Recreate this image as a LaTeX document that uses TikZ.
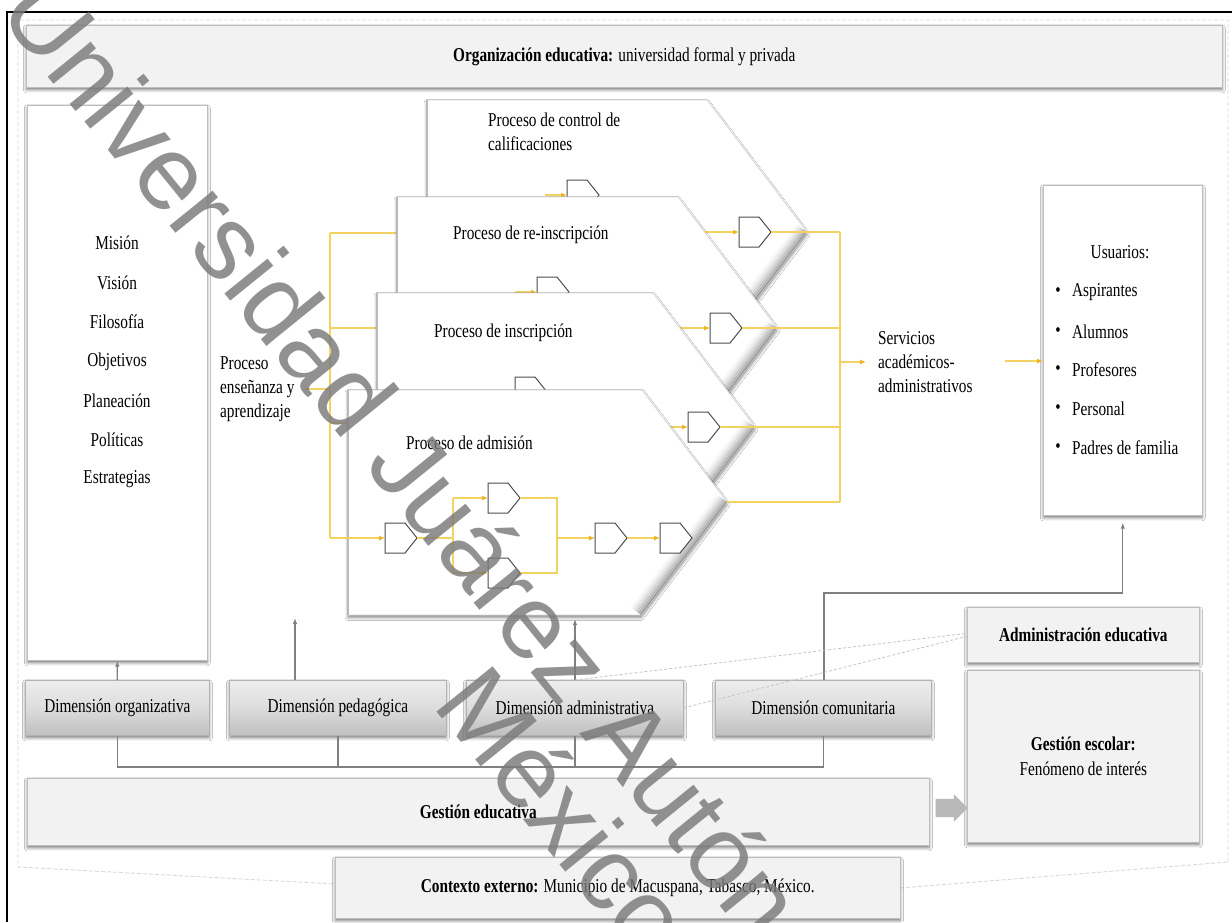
\documentclass[tikz,border=0pt]{standalone}
\usepackage{fontspec}
\setmainfont{Liberation Serif}[FakeStretch=0.78]
\newfontfamily\markfont{Liberation Sans}
\usetikzlibrary{shadows.blur,arrows.meta,shapes.arrows}

\definecolor{flow}{RGB}{242,210,96}
\definecolor{flowtip}{RGB}{236,180,30}
\definecolor{panel}{RGB}{242,242,242}
\definecolor{conn}{RGB}{128,128,128}
\definecolor{edge}{RGB}{190,190,190}
\definecolor{markgray}{RGB}{122,122,122}

\tikzset{
  every node/.style={font=\fontsize{19.6}{24}\selectfont, inner sep=0pt},
  softshadow/.style={blur shadow={shadow xshift=0pt, shadow yshift=-2.5pt, shadow blur radius=3pt, shadow opacity=50}},
  panelbox/.style={softshadow, fill=panel, draw=edge, line width=0.6pt, anchor=north west},
  whitebox/.style={softshadow, fill=white, draw=edge, line width=0.6pt, anchor=north west},
  dimbox/.style={softshadow, top color=gray!14, bottom color=gray!50, middle color=gray!27, draw=gray!60, line width=0.7pt, anchor=north west},
  procpath/.style={softshadow, fill=white, draw=gray!30, line width=0.8pt},
  procedge/.style={draw=gray!55, line width=1.6pt},
  gatepen/.style={fill=white, draw=black!70, line width=1pt, line join=miter},
  flowline/.style={draw=flow, line width=1.2pt},
  flowarrow/.style={flowline, -{Latex[length=6pt,width=5pt,color=flowtip]}},
  connline/.style={draw=conn, line width=1.3pt},
  connarrow/.style={connline, -{Latex[length=6pt,width=4.5pt]}},
  zoomline/.style={draw=gray!45, line width=0.8pt, dash pattern=on 3pt off 2pt},
  outerframe/.style={draw=gray!30, line width=0.9pt, dash pattern=on 4pt off 2pt},
  watermark/.style={font=\markfont\fontsize{105}{118}\selectfont, text=markgray,
                    text opacity=0.82, rotate=-51, anchor=base west},
  gate/.pic={
    \path[gatepen] (-16,-15) -- (4,-15) -- (16,0) -- (4,15) -- (-16,15) -- cycle;
    \coordinate (-in) at (-16,0);
    \coordinate (-out) at (16,0);
  },
}

% inner bevel along the lower slanted side of a process chevron
\newcommand\bevel[4]{%
  \foreach \k/\o in {0/0.32,2/0.26,4/0.20,6/0.14,8/0.09,10/0.05,12/0.02}
    \draw[line width=2.2pt, black, opacity=\o, shift={(-0.797*\k,-0.604*\k)}] (#1,#2) -- (#3,#4);
}

\begin{document}
\begin{tikzpicture}[x=1pt,y=-1pt]
\useasboundingbox (0,0) rectangle (1232,922);
\fill[white] (0,0) rectangle (1232,922);

% surrounding frames
\path[outerframe] (1228,862) -- (1228,20) -- (18,20) -- (18,867) -- (335,884);
\path[outerframe] (900,888) -- (1228,862);
\draw[line width=2pt] (7,922) -- (7,12) -- (1232,12);

% organisation header
\node[panelbox, minimum width=1196pt, minimum height=62pt] (org) at (26,25)
  {\textbf{Organización educativa:} universidad formal y privada};

% strategic column
\node[whitebox, minimum width=180pt, minimum height=555pt] (mis) at (27,105) {};
\foreach \t/\y in {Misión/243, Visión/283, Filosofía/322, Objetivos/362,
                   Planeación/401, Políticas/440, Estrategias/479}
  \node (m\y) at (117,\y) {\t};

\node[anchor=west, align=left] (pea) at (220,389) {Proceso\\enseñanza y\\aprendizaje};

% input bus towards the processes
\coordinate (busTop) at (330,233);
\coordinate (busBot) at (330,538);
\coordinate (reL) at (397,233);
\coordinate (inL) at (377,328);
\coordinate (adL) at (348,423);
\draw[flowline] ([xshift=10pt]pea.east) -- (pea.east -| busTop);
\draw[flowline] (busTop) -- (busBot);
\draw[flowline] (busTop) -- (reL);
\draw[flowline] (busTop |- inL) -- (inL);
\draw[flowline] (busTop |- adL) -- (adL);

% process: control de calificaciones
\path[procpath] (427,100) -- (707,100) -- (807,232) -- (707,364) -- (427,364) -- cycle;
\begin{scope}
  \clip (427,100) -- (707,100) -- (807,232) -- (707,364) -- (427,364) -- cycle;
  \bevel{807}{232}{707}{364}
\end{scope}
\draw[procedge] (427,100) -- (427,364);
\node[anchor=west, align=left] (tctl) at (488,131.5) {Proceso de control de\\calificaciones};
\pic (c1) at (583,195) {gate};
\coordinate (c1src) at (545,195);
\draw[flowarrow] (c1src) -- (c1-in);
\pic (c2) at (755,232) {gate};
\coordinate (c2src) at (660,232);
\draw[flowarrow] (c2src) -- (c2-in);

% process: re-inscripcion
\path[procpath] (397,197) -- (678,197) -- (777,328) -- (678,459) -- (397,459) -- cycle;
\begin{scope}
  \clip (397,197) -- (678,197) -- (777,328) -- (678,459) -- (397,459) -- cycle;
  \bevel{777}{328}{678}{459}
\end{scope}
\draw[procedge] (397,197) -- (397,459);
\node[anchor=west] (trei) at (453,235) {Proceso de re-inscripción};
\pic (r1) at (553,292) {gate};
\coordinate (r1src) at (515,292);
\draw[flowarrow] (r1src) -- (r1-in);
\pic (r2) at (726,328) {gate};
\coordinate (r2src) at (640,328);
\draw[flowarrow] (r2src) -- (r2-in);

% process: inscripcion
\path[procpath] (377,293) -- (653,293) -- (755,427) -- (653,561) -- (377,561) -- cycle;
\begin{scope}
  \clip (377,293) -- (653,293) -- (755,427) -- (653,561) -- (377,561) -- cycle;
  \bevel{755}{427}{653}{561}
\end{scope}
\draw[procedge] (377,293) -- (377,561);
\node[anchor=west] (tins) at (434,333) {Proceso de inscripción};
\pic (i1) at (531,392) {gate};
\coordinate (i1src) at (493,392);
\draw[flowarrow] (i1src) -- (i1-in);
\pic (i2) at (704,427) {gate};
\coordinate (i2src) at (620,427);
\draw[flowarrow] (i2src) -- (i2-in);

% process: admision
\path[procpath] (348,390) -- (642,390) -- (727,502) -- (641,615) -- (348,615) -- cycle;
\begin{scope}
  \clip (348,390) -- (642,390) -- (727,502) -- (641,615) -- (348,615) -- cycle;
  \bevel{727}{502}{641}{615}
\end{scope}
\draw[procedge] (348,390) -- (348,615);
\node[anchor=west] (tadm) at (406,443) {Proceso de admisión};
\pic (gA) at (401,538) {gate};
\pic (gB) at (504,498) {gate};
\pic (gC) at (504,573) {gate};
\pic (gD) at (611,538) {gate};
\pic (gE) at (676,538) {gate};
\coordinate (fork) at (453,538);
\coordinate (join) at (557,538);
\draw[flowarrow] (busBot) -- (gA-in);
\draw[flowline] (gA-out) -- (fork);
\draw[flowline] (fork |- gB-in) -- (fork |- gC-in);
\draw[flowarrow] (fork |- gB-in) -- (gB-in);
\draw[flowarrow] (fork |- gC-in) -- (gC-in);
\draw[flowline] (gB-out) -- (join |- gB-out) -- (join |- gC-out) -- (gC-out);
\draw[flowarrow] (join) -- (gD-in);
\draw[flowarrow] (gD-out) -- (gE-in);

% output bus
\coordinate (admP) at (727,502);
\coordinate (outTop) at (840,232);
\coordinate (outBot) at (840,502);
\coordinate (outMid) at (840,362);
\draw[flowline] (c2-out) -- (outTop);
\draw[flowline] (r2-out) -- (r2-out -| outTop);
\draw[flowline] (i2-out) -- (i2-out -| outTop);
\draw[flowline] (admP) -- (outBot);
\draw[flowline] (outTop) -- (outBot);

\node[anchor=west, align=left] (serv) at (878,362) {Servicios\\académicos-\\administrativos};
\draw[flowarrow] (outMid) -- ([xshift=-12pt]serv.west |- outMid);

% users
\node[whitebox, minimum width=159pt, minimum height=330pt] (usr) at (1043,185) {};
\node (utit) at (1120,252) {Usuarios:};
\foreach \t/\y [count=\i] in {Aspirantes/292, Alumnos/332, Profesores/370, Personal/409, Padres de familia/448}{
  \node (ub\i) at (1058,\y) {\textbullet};
  \node[anchor=west] (ut\i) at (1072,\y) {\t};
}
\coordinate (srvout) at (1005,361);
\draw[flowarrow] (srvout) -- (srvout -| usr.west);

% dimensions
\node[dimbox, minimum width=184pt, minimum height=55pt] (dorg) at (25,680) {Dimensión organizativa};
\node[dimbox, minimum width=217pt, minimum height=55pt] (dped) at (229,680) {Dimensión pedagógica};
\node[dimbox, minimum width=217pt, minimum height=55pt] (dadm) at (466,680) {Dimensión administrativa};
\node[dimbox, minimum width=216pt, minimum height=55pt] (dcom) at (715,680) {Dimensión comunitaria};

% school management panels
\node[panelbox, minimum width=232pt, minimum height=55pt] (aedu) at (967,607) {\textbf{Administración educativa}};
\node[panelbox, minimum width=232pt, minimum height=172pt, align=center] (gesc) at (967,670)
  {\textbf{Gestión escolar:}\\[1pt]Fenómeno de interés};
\node[panelbox, minimum width=902pt, minimum height=67pt] (gedu) at (27,778) {\textbf{Gestión educativa}};
\node[panelbox, minimum width=565pt, minimum height=61pt] (ctx) at (335,857)
  {\textbf{Contexto externo:} Municipio de Macuspana, Tabasco, México.};

\node[single arrow, fill=gray!55, minimum height=32pt, inner sep=9pt,
      single arrow head extend=4.5pt] (garr) at (947,808) {};

% links from the dimensions
\coordinate (pedtip) at (295,618);
\coordinate (admtip) at (575,619);
\coordinate (comup) at (824,593);
\draw[connarrow] (dorg.north) -- (mis.south);
\draw[connarrow] (dped.north -| pedtip) -- (pedtip);
\draw[connarrow] (dadm.north -| admtip) -- (admtip);
\draw[connarrow, shorten >=7pt] (dcom.north -| comup) -- (comup) -| (usr.south);

\coordinate (bus) at (0,767);
\draw[connline] (dorg.south) -- (dorg.south |- bus) -- (dcom.south |- bus) -- (dcom.south);
\draw[connline] (dped.south) -- (dped.south |- bus);
\draw[connline] (dadm.south -| admtip) -- (admtip |- bus);

\draw[zoomline] (dadm.north) -- ([yshift=1.5pt]aedu.west);
\draw[zoomline] (dadm.east) -- ([yshift=-1.5pt]aedu.west);

% institutional watermark across the page
\node[watermark] (wm1) at (-4,12) {Universidad Juárez Autónoma de Tabasco};
\node[watermark] (wm2) at (431,705) {México};
\end{tikzpicture}
\end{document}
